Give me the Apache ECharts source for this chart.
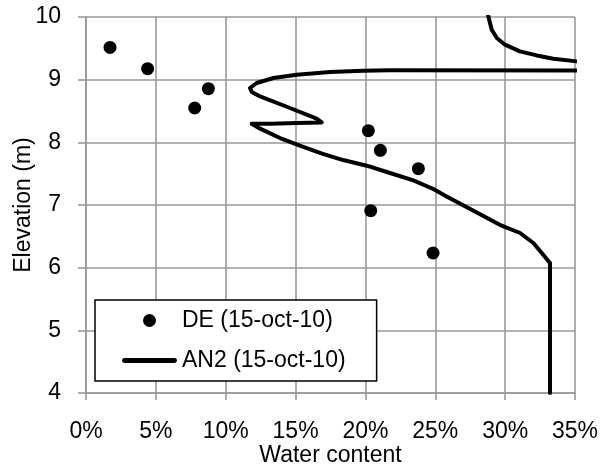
<!DOCTYPE html>
<html>
<head>
<meta charset="utf-8">
<script src="https://cdn.jsdelivr.net/npm/echarts@6/dist/echarts.min.js"></script>
<style>
html,body{margin:0;padding:0;background:#fff;}
#chart{width:611px;height:470px;}
</style>
</head>
<body>
<div id="chart"></div>
<script>
// Scatter series DE (15-oct-10): water content (%) and elevation (m)
var deX = [1.72, 4.41, 8.76, 7.78, 20.21, 21.07, 23.79, 20.38, 24.84];
var deY = [9.515, 9.175, 8.856, 8.548, 8.186, 7.872, 7.58, 6.91, 6.234];

// Line series AN2 (15-oct-10), in path order
var an2X = [28.75, 29.04, 29.40, 29.99, 31.06, 32.26, 33.45, 35.13, 37.0, 38.0, 37.0, 35.0,
            21.76, 19.85, 17.47, 15.08, 13.41, 12.22, 11.74, 11.86, 12.46, 14.60, 16.51, 16.87,
            15.08, 13.17, 11.86, 12.46, 13.89, 15.40, 16.9, 18.4, 20.09, 21.76, 23.43, 24.86, 25.81,
            27.60, 29.75, 31.07, 32.02, 32.62, 33.21, 33.21];
var an2Y = [10.05, 9.797, 9.665, 9.558, 9.451, 9.387, 9.335, 9.292, 9.26, 9.20, 9.15, 9.148,
            9.150, 9.143, 9.122, 9.079, 9.026, 8.947, 8.867, 8.803, 8.733, 8.548, 8.377, 8.318,
            8.309, 8.297, 8.297, 8.218, 8.069, 7.94, 7.82, 7.717, 7.627, 7.511, 7.393, 7.255, 7.137,
            6.925, 6.67, 6.553, 6.394, 6.234, 6.075, 4.0];

var xTicks = {min: 0, max: 35, interval: 5};
var yTicks = {min: 4, max: 10, interval: 1};

function pairs(xs, ys){ return xs.map(function(x,i){ return [x, ys[i]]; }); }

var FONT = '"Liberation Sans", Arial, sans-serif';
var GRID = '#999999';
var FS = 23;

var chart = echarts.init(document.getElementById('chart'), null, {renderer:'canvas'});
chart.setOption({
  animation: false,
  backgroundColor: '#ffffff',
  textStyle: {fontFamily: FONT},
  grid: {left: 86, right: 36, top: 17, bottom: 77, containLabel: false, outerBoundsMode: 'none'},
  xAxis: {
    type: 'value', min: xTicks.min, max: xTicks.max, interval: xTicks.interval,
    name: 'Water content', nameLocation: 'middle', nameGap: 51, nameMoveOverlap: false,
    nameTextStyle: {fontSize: FS, color: '#000', fontFamily: FONT},
    axisLine: {show: true, lineStyle: {color: GRID, width: 1.6}},
    axisTick: {show: true, length: 7, lineStyle: {color: GRID, width: 1.6}},
    axisLabel: {fontSize: FS, color: '#000', margin: 27, fontFamily: FONT,
                formatter: function(v){ return v + '%'; }},
    splitLine: {show: true, lineStyle: {color: GRID, width: 1.6}}
  },
  yAxis: {
    type: 'value', min: yTicks.min, max: yTicks.max, interval: yTicks.interval,
    name: 'Elevation (m)', nameLocation: 'middle', nameGap: 51, nameRotate: 90, nameMoveOverlap: false,
    nameTextStyle: {fontSize: FS, color: '#000', fontFamily: FONT},
    axisLine: {show: true, lineStyle: {color: GRID, width: 1.6}},
    axisTick: {show: true, length: 8, lineStyle: {color: GRID, width: 1.6}},
    axisLabel: {fontSize: FS, color: '#000', margin: 25, fontFamily: FONT},
    splitLine: {show: true, lineStyle: {color: GRID, width: 1.6}}
  },
  legend: {
    left: 95, top: 300, orient: 'vertical',
    backgroundColor: '#fff', borderColor: '#000', borderWidth: 1.5,
    padding: [9, 31, 9, 27], itemGap: 17, itemWidth: 55, itemHeight: 13, itemTextGap: 3,
    textStyle: {fontSize: FS, color: '#000', fontFamily: FONT},
    data: [
      {name: 'DE (15-oct-10)', icon: 'circle'},
      {name: 'AN2 (15-oct-10)', icon: 'path://M2,0 L53,0 A2.5,2.5 0 0 1 53,5 L2,5 A2.5,2.5 0 0 1 2,0 Z'}
    ]
  },
  series: [
    {
      name: 'AN2 (15-oct-10)', type: 'line', data: pairs(an2X, an2Y),
      symbol: 'none', showSymbol: false, clip: true, smooth: false,
      lineStyle: {color: '#000', width: 4, join: 'round', cap: 'round'},
      itemStyle: {color: '#000'}, z: 3
    },
    {
      name: 'DE (15-oct-10)', type: 'scatter', data: pairs(deX, deY),
      symbol: 'circle', symbolSize: 13,
      itemStyle: {color: '#000', opacity: 1}, z: 4
    }
  ]
});
</script>
</body>
</html>
